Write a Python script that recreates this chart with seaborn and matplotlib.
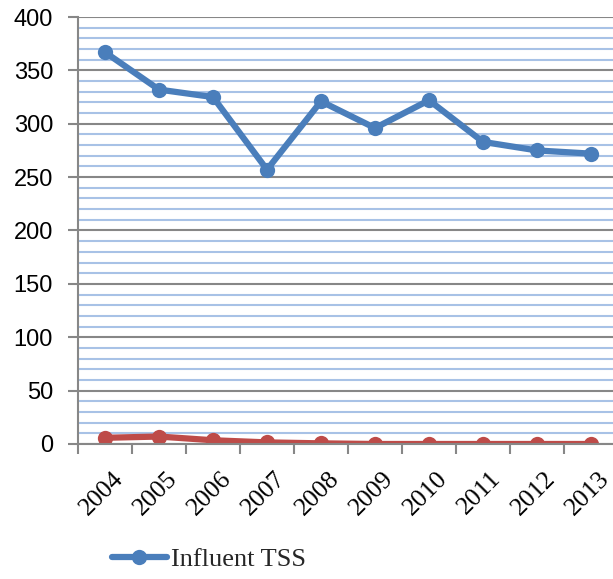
import numpy as np
import pandas as pd
import matplotlib
matplotlib.use("Agg")
import matplotlib.pyplot as plt
import matplotlib.transforms as mtransforms
import seaborn as sns
from matplotlib.lines import Line2D
from matplotlib.ticker import MultipleLocator

# data
years = ["2004", "2005", "2006", "2007", "2008", "2009", "2010", "2011", "2012", "2013"]
influent_tss = [367, 332, 325, 257, 321, 296, 322, 283, 275, 272]
effluent_tss = [5.8, 7.0, 3.5, 1.5, 0.6, 0, 0, 0, 0, 0]
series_names = ["Influent TSS", "Effluent TSS"]

df = pd.DataFrame({
    "year": years * 2,
    "value": influent_tss + effluent_tss,
    "series": [series_names[0]] * len(years) + [series_names[1]] * len(years),
})

sns.set_style("white")
plt.rcParams["font.family"] = ["Liberation Sans", "DejaVu Sans"]

fig = plt.figure(figsize=(6.13, 5.79), dpi=100)
ax = fig.add_axes([78 / 613, 135 / 579, 540 / 613, 427 / 579])

# gridlines first so they sit behind the lines
ax.set_ylim(0, 400)
ax.yaxis.set_major_locator(MultipleLocator(50))
ax.yaxis.set_minor_locator(MultipleLocator(10))
ax.grid(which="minor", axis="y", color="#a8c2e6", lw=1.5)
ax.grid(which="major", axis="y", color="#878787", lw=1.5)
ax.set_axisbelow(True)

colors = {"Influent TSS": "#4a7ebb", "Effluent TSS": "#be4b48"}
sns.lineplot(data=df, x="year", y="value", hue="series", palette=colors,
             marker="o", markersize=11, markeredgewidth=0, lw=4.5,
             legend=False, ax=ax, sort=False)

ax.set_xlim(-0.5, 9.5)
ax.set_xlabel("")
ax.set_ylabel("")

for s in ["top", "right"]:
    ax.spines[s].set_visible(False)
for s in ["left", "bottom"]:
    ax.spines[s].set_color("#878787")
    ax.spines[s].set_linewidth(1.5)

# category ticks between the labels, like the original
ax.set_xticks(np.arange(-0.5, 10, 1), minor=True)
ax.tick_params(axis="x", which="minor", direction="out", length=7, width=1.5,
               color="#878787", bottom=True)
ax.tick_params(axis="x", which="major", length=0, pad=17, labelcolor="black")
ax.tick_params(axis="y", which="major", direction="out", length=7, width=1.5,
               color="#878787", left=True, labelsize=17, pad=11,
               labelcolor="black")
ax.tick_params(axis="y", which="minor", length=0)

ax.set_xticks(range(len(years)))
ax.set_xticklabels(years, rotation=45, ha="right", rotation_mode="anchor",
                   fontfamily="Liberation Serif", fontsize=18.5)
shift = mtransforms.ScaledTranslation(7 / 100, 0, fig.dpi_scale_trans)
for lab in ax.get_xticklabels():
    lab.set_transform(lab.get_transform() + shift)

handle = Line2D([], [], color=colors["Influent TSS"], lw=4.5, marker="o",
                markersize=11, markeredgewidth=0)
fig.legend([handle], [series_names[0]], loc="center left",
           bbox_to_anchor=(88 / 613, 1 - 559 / 579), frameon=False,
           handlelength=2.1, handletextpad=0.15,
           prop={"family": "Liberation Serif", "size": 19})

fig.savefig("out.png", dpi=100)
